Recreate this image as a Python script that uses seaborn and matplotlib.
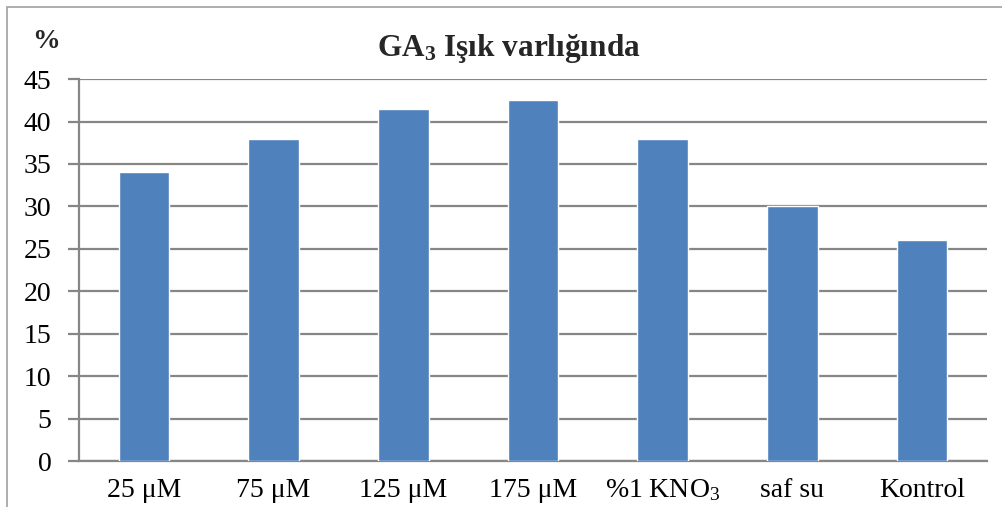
import matplotlib
matplotlib.use("Agg")
import matplotlib.pyplot as plt
import seaborn as sns
import pandas as pd
from matplotlib.patches import Rectangle

categories = ["25 μM", "75 μM", "125 μM", "175 μM", "%1 KNO$_3$", "saf su", "Kontrol"]
values = [34, 38, 41.5, 42.5, 38, 30, 26]
y_ticks = [0, 5, 10, 15, 20, 25, 30, 35, 40, 45]

sns.set_theme(style="white")
plt.rcParams["font.family"] = ["Liberation Serif", "DejaVu Serif"]
plt.rcParams["mathtext.default"] = "regular"

df = pd.DataFrame({"group": categories, "value": values})

fig = plt.figure(figsize=(10.03, 5.07), dpi=100)
ax = fig.add_axes([0.0788, 0.0907, 0.905, 0.7533])

sns.barplot(data=df, x="group", y="value", color="#4F81BD", saturation=1,
            width=0.39, ax=ax, zorder=3)

ax.set_ylim(0, 45)
ax.set_xlim(-0.5, len(categories) - 0.5)
ax.set_yticks(y_ticks)
ax.yaxis.grid(True, color="#868686", linewidth=1.6, zorder=0)
ax.set_axisbelow(True)
ax.set_xlabel("")
ax.set_ylabel("")

for side in ("top", "right"):
    ax.spines[side].set_visible(False)
for side in ("left", "bottom"):
    ax.spines[side].set_color("#868686")
    ax.spines[side].set_linewidth(1.6)

ax.tick_params(axis="y", which="major", length=8, width=1.6, color="#868686",
               direction="out", left=True, labelsize=20, pad=12, labelcolor="black")
ax.tick_params(axis="x", length=0, labelsize=20, pad=12, labelcolor="black")

fig.text(0.046, 0.918, "%", fontsize=20, fontweight="bold", ha="center", va="center")
fig.text(0.507, 0.905, "GA$_3$ Işık varlığında", fontsize=22.5, fontweight="bold",
         ha="center", va="center")

fig.patches.append(Rectangle((0.007, -0.05), 1.05, 1.036, transform=fig.transFigure,
                             fill=False, edgecolor="#A0A0A0", linewidth=1.2))

fig.savefig("out.png", dpi=100)
